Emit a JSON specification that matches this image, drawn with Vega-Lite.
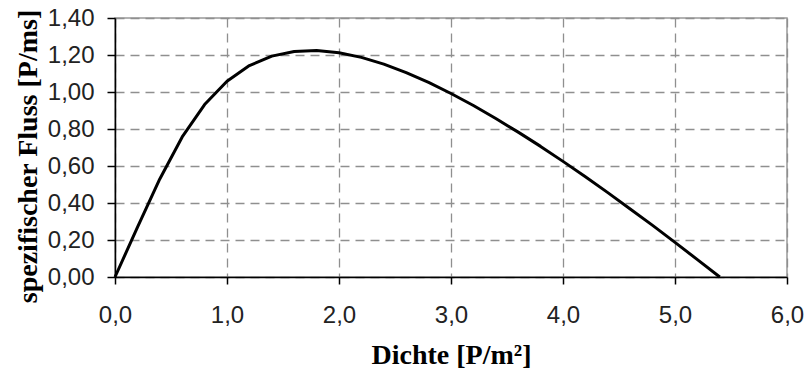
{
  "$schema": "https://vega.github.io/schema/vega-lite/v6.json",
  "width": 672,
  "height": 259,
  "autosize": {"type": "none"},
  "padding": {"left": 115, "top": 18, "right": 19, "bottom": 102},
  "background": "white",
  "config": {
    "view": {"stroke": "#999999", "strokeWidth": 1.5}
  },
  "data": {
    "values": [
      {"dichte": 0.0, "fluss": 0.0},
      {"dichte": 0.2, "fluss": 0.268},
      {"dichte": 0.4, "fluss": 0.530},
      {"dichte": 0.6, "fluss": 0.757},
      {"dichte": 0.8, "fluss": 0.932},
      {"dichte": 1.0, "fluss": 1.058},
      {"dichte": 1.2, "fluss": 1.143},
      {"dichte": 1.4, "fluss": 1.194},
      {"dichte": 1.6, "fluss": 1.219},
      {"dichte": 1.8, "fluss": 1.224},
      {"dichte": 2.0, "fluss": 1.212},
      {"dichte": 2.2, "fluss": 1.187},
      {"dichte": 2.4, "fluss": 1.151},
      {"dichte": 2.6, "fluss": 1.105},
      {"dichte": 2.8, "fluss": 1.052},
      {"dichte": 3.0, "fluss": 0.992},
      {"dichte": 3.2, "fluss": 0.927},
      {"dichte": 3.4, "fluss": 0.857},
      {"dichte": 3.6, "fluss": 0.783},
      {"dichte": 3.8, "fluss": 0.706},
      {"dichte": 4.0, "fluss": 0.625},
      {"dichte": 4.2, "fluss": 0.542},
      {"dichte": 4.4, "fluss": 0.456},
      {"dichte": 4.6, "fluss": 0.368},
      {"dichte": 4.8, "fluss": 0.279},
      {"dichte": 5.0, "fluss": 0.187},
      {"dichte": 5.2, "fluss": 0.094},
      {"dichte": 5.4, "fluss": 0.0}
    ]
  },
  "mark": {"type": "line", "color": "black", "strokeWidth": 3, "strokeJoin": "round"},
  "encoding": {
    "x": {
      "field": "dichte",
      "type": "quantitative",
      "scale": {"domain": [0, 6], "nice": false, "zero": false},
      "axis": {
        "values": [0, 1, 2, 3, 4, 5, 6],
        "labelExpr": "replace(format(datum.value, '.1f'), '.', ',')",
        "title": "Dichte [P/m²]",
        "titleFont": "Liberation Serif",
        "titleFontSize": 28,
        "titleFontWeight": "bold",
        "titleColor": "black",
        "titleBaseline": "middle",
        "titleY": 78,
        "labelFont": "Liberation Sans",
        "labelFontSize": 24,
        "labelColor": "#222222",
        "labelPadding": 19,
        "labelFlush": false,
        "tickSize": 7,
        "tickColor": "black",
        "tickWidth": 1.5,
        "domainColor": "black",
        "domainWidth": 1.5,
        "grid": true,
        "gridColor": "#8f8f8f",
        "gridDash": [9, 6],
        "gridWidth": 1.3
      }
    },
    "y": {
      "field": "fluss",
      "type": "quantitative",
      "scale": {"domain": [0, 1.4], "nice": false},
      "axis": {
        "values": [0, 0.2, 0.4, 0.6, 0.8, 1.0, 1.2, 1.4],
        "labelExpr": "replace(format(datum.value, '.2f'), '.', ',')",
        "title": "spezifischer Fluss [P/ms]",
        "titleFont": "Liberation Serif",
        "titleFontSize": 28,
        "titleFontWeight": "bold",
        "titleColor": "black",
        "titleAngle": -90,
        "titleBaseline": "middle",
        "titleAlign": "center",
        "titleX": -87,
        "titleY": 138,
        "labelFont": "Liberation Sans",
        "labelFontSize": 24,
        "labelColor": "#222222",
        "labelPadding": 13,
        "labelFlush": false,
        "tickSize": 8,
        "tickColor": "black",
        "tickWidth": 1.5,
        "domainColor": "black",
        "domainWidth": 1.5,
        "grid": true,
        "gridColor": "#8f8f8f",
        "gridDash": [9, 6],
        "gridWidth": 1.3
      }
    }
  }
}
